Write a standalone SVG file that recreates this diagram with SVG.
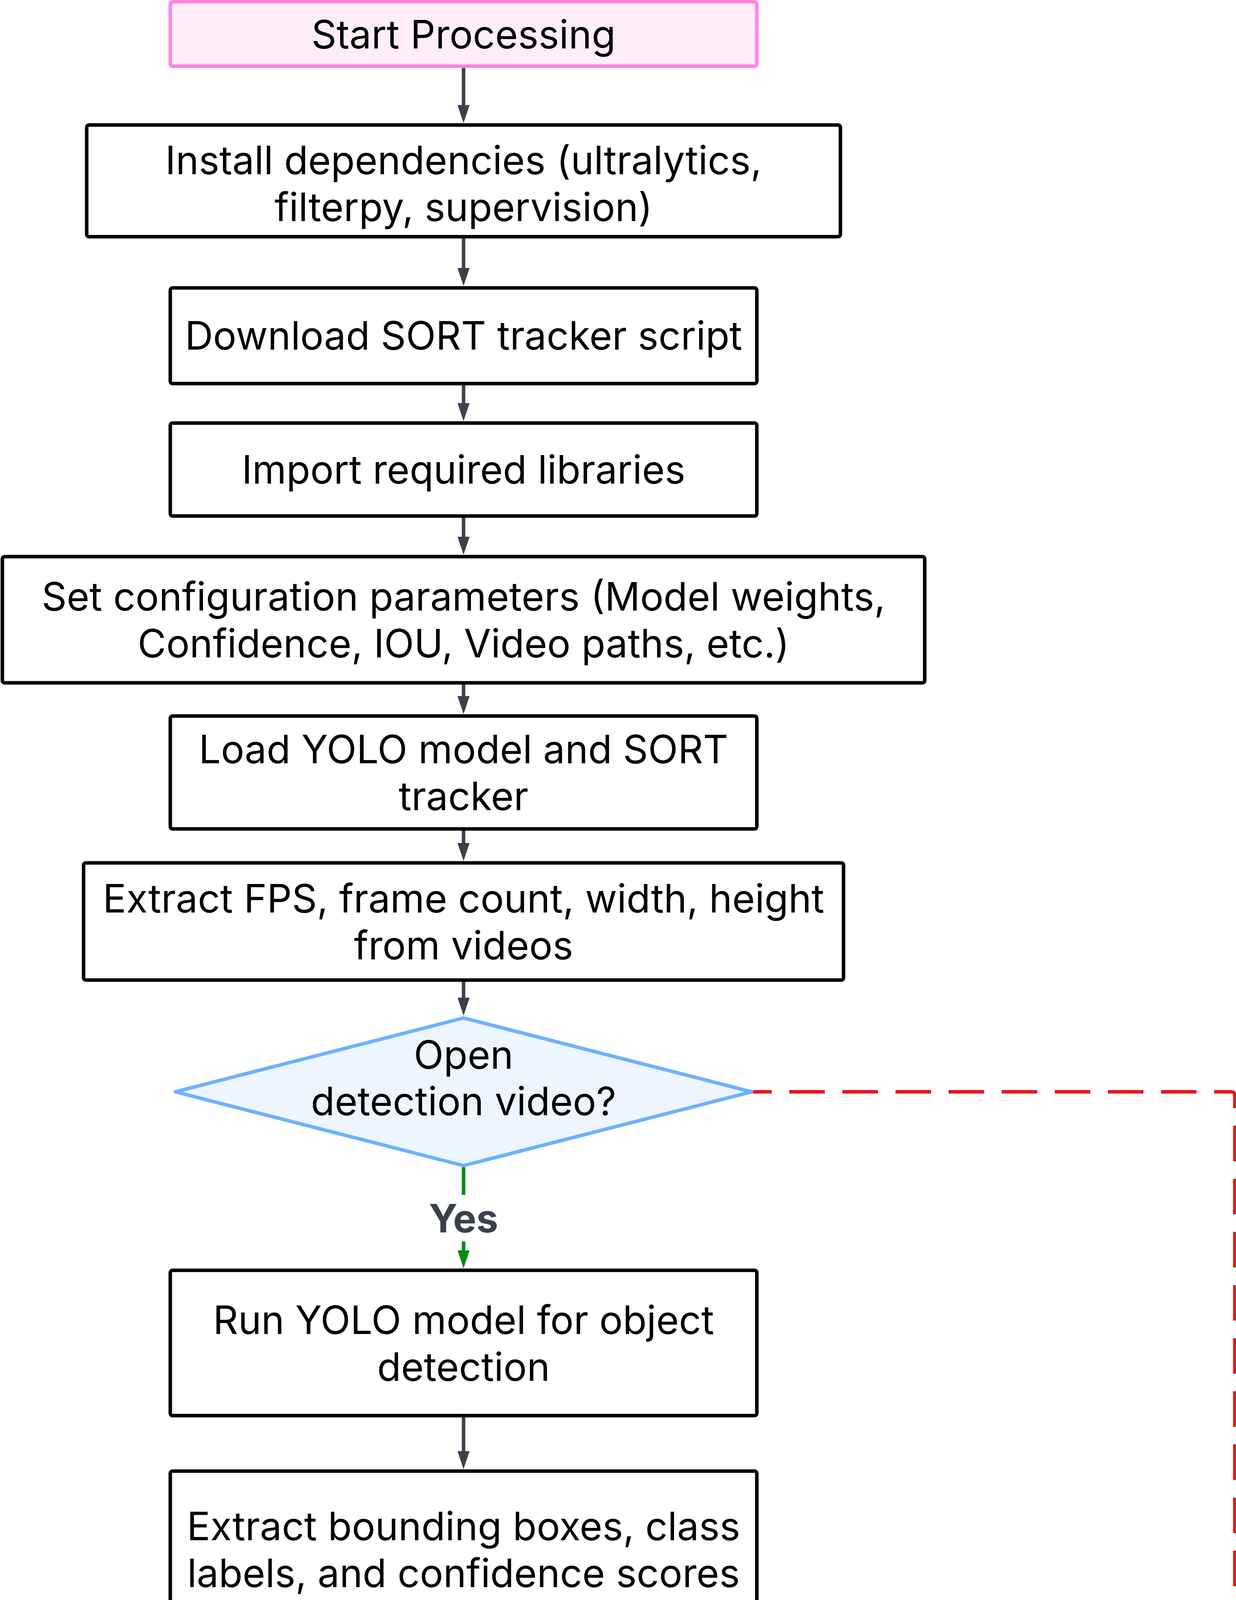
<svg xmlns="http://www.w3.org/2000/svg" width="3165" height="7988" viewBox="0 0 3165 7988">
<style>
.bg{fill:#ffffff}
.box rect{fill:#ffffff;stroke:#000000;stroke-width:9}
.box text,.dec text{font-family:Inter,"Liberation Sans",sans-serif;font-size:100px;fill:#000000;text-anchor:middle}
.start rect{fill:#ffeefa;stroke:#ff86de}
.dec polygon{fill:#edf5ff;stroke:#6eb0ff;stroke-width:9;stroke-linejoin:round}
.e{stroke:#3b414b;stroke-width:9;fill:none}
.eg{stroke:#078a12;stroke-width:9;fill:none}
.er{stroke:#e8151a;stroke-width:9;fill:none;stroke-dasharray:91 45;stroke-dashoffset:39}
.lbl{font-family:Inter,"Liberation Sans",sans-serif;font-size:100px;font-weight:bold;fill:#3b414b}
</style>
<defs>
<marker id="ag" markerUnits="userSpaceOnUse" viewBox="0 0 46 31" markerWidth="46" markerHeight="31" refX="16" refY="15.5" orient="auto"><path d="M0,0 L46,15.5 L0,31 z" fill="#3b414b"/></marker>
<marker id="agr" markerUnits="userSpaceOnUse" viewBox="0 0 46 31" markerWidth="46" markerHeight="31" refX="16" refY="15.5" orient="auto"><path d="M0,0 L46,15.5 L0,31 z" fill="#078a12"/></marker>
<marker id="ar" markerUnits="userSpaceOnUse" viewBox="0 0 46 31" markerWidth="46" markerHeight="31" refX="16" refY="15.5" orient="auto"><path d="M0,0 L46,15.5 L0,31 z" fill="#e8151a"/></marker>
</defs>
<rect class="bg" x="0" y="0" width="3165" height="7988"/>
<g id="connectors">
<line class="e" x1="1187" y1="174" x2="1187" y2="285" marker-end="url(#ag)"/>
<line class="e" x1="1187" y1="610" x2="1187" y2="702" marker-end="url(#ag)"/>
<line class="e" x1="1187" y1="986" x2="1187" y2="1048" marker-end="url(#ag)"/>
<line class="e" x1="1187" y1="1325" x2="1187" y2="1390" marker-end="url(#ag)"/>
<line class="e" x1="1187" y1="1752" x2="1187" y2="1798" marker-end="url(#ag)"/>
<line class="e" x1="1187" y1="2126" x2="1187" y2="2174" marker-end="url(#ag)"/>
<line class="e" x1="1187" y1="2513" x2="1187" y2="2570" marker-end="url(#ag)"/>
<line class="eg" x1="1187" y1="2988" x2="1187" y2="3217" marker-end="url(#agr)"/>
<line class="e" x1="1187" y1="3628" x2="1187" y2="3731" marker-end="url(#ag)"/>
<line class="e" x1="1187" y1="4174" x2="1187" y2="4203" marker-end="url(#ag)"/>
<line class="e" x1="1187" y1="4531" x2="1187" y2="4563" marker-end="url(#ag)"/>
<line class="e" x1="1187" y1="4889" x2="1187" y2="4978" marker-end="url(#ag)"/>
<line class="e" x1="1187" y1="5235" x2="1187" y2="5273" marker-end="url(#ag)"/>
<line class="e" x1="1187" y1="5599" x2="1187" y2="5638" marker-end="url(#ag)"/>
<line class="e" x1="1187" y1="5965" x2="1187" y2="5998" marker-end="url(#ag)"/>
<line class="e" x1="1187" y1="6323" x2="1187" y2="6381" marker-end="url(#ag)"/>
<line class="e" x1="1187" y1="6634" x2="1187" y2="6696" marker-end="url(#ag)"/>
<line class="e" x1="1187" y1="7022" x2="1187" y2="7067" marker-end="url(#ag)"/>
<line class="e" x1="1187" y1="7355" x2="1187" y2="7433" marker-end="url(#ag)"/>
<line class="e" x1="1187" y1="7701" x2="1187" y2="7786" marker-end="url(#ag)"/>
<path class="er" d="M1924,2795 H3152 Q3162,2795 3162,2805 V7893 Q3162,7903 3152,7903 H1973" marker-end="url(#ar)"/>
<g id="edge-labels">
<rect x="1090" y="3059" width="195" height="119" fill="#ffffff"/>
<text class="lbl" x="1187" y="3155" text-anchor="middle">Yes</text>
<rect x="3090" y="5258" width="75" height="182" fill="#ffffff"/>
<text class="lbl" x="3101" y="5377">N</text>
</g>
</g>
<g id="n1" class="box start"><rect x="436" y="4.5" width="1502" height="165" rx="6"/><text x="1187" y="124">Start Processing</text></g>
<g id="n2" class="box"><rect x="222" y="320" width="1930" height="286" rx="6"/><text x="1187" y="446">Install dependencies (ultralytics,</text><text x="1187" y="566">filterpy, supervision)</text></g>
<g id="n3" class="box"><rect x="436" y="737" width="1502" height="245" rx="6"/><text x="1187" y="895">Download SORT tracker script</text></g>
<g id="n4" class="box"><rect x="436" y="1083" width="1502" height="238" rx="6"/><text x="1187" y="1238">Import required libraries</text></g>
<g id="n5" class="box"><rect x="6" y="1425" width="2362" height="323" rx="6"/><text x="1187" y="1563">Set configuration parameters (Model weights,</text><text x="1187" y="1683">Confidence, IOU, Video paths, etc.)</text></g>
<g id="n6" class="box"><rect x="436" y="1833" width="1502" height="289" rx="6"/><text x="1187" y="1954">Load YOLO model and SORT</text><text x="1187" y="2074">tracker</text></g>
<g id="n7" class="box"><rect x="214" y="2209" width="1946" height="300" rx="6"/><text x="1187" y="2336">Extract FPS, frame count, width, height</text><text x="1187" y="2456">from videos</text></g>
<g id="n8" class="dec"><polygon points="1187,2606 1925,2795 1187,2984 449,2795"/><text x="1187" y="2736">Open</text><text x="1187" y="2855">detection video?</text></g>
<g id="n9" class="box"><rect x="436" y="3252" width="1502" height="372" rx="6"/><text x="1187" y="3415">Run YOLO model for object</text><text x="1187" y="3535">detection</text></g>
<g id="n10" class="box"><rect x="436" y="3766" width="1502" height="404" rx="6"/><text x="1187" y="3943">Extract bounding boxes, class</text><text x="1187" y="4063">labels, and confidence scores</text></g>
<g id="n11" class="box"><rect x="436" y="4238" width="1502" height="289" rx="6"/><text x="1187" y="4359">Update SORT tracker with</text><text x="1187" y="4479">detections</text></g>
<g id="n12" class="box"><rect x="436" y="4598" width="1502" height="287" rx="6"/><text x="1187" y="4718">Draw rectangles &amp; labels on</text><text x="1187" y="4838">objects</text></g>
<g id="n13" class="box"><rect x="436" y="5013" width="1502" height="218" rx="6"/><text x="1187" y="5159">Write frames to output video</text></g>
<g id="n14" class="box"><rect x="436" y="5308" width="1502" height="287" rx="6"/><text x="1187" y="5428">Apply ByteTrack for heatmap</text><text x="1187" y="5548">annotations</text></g>
<g id="n15" class="box"><rect x="436" y="5673" width="1502" height="288" rx="6"/><text x="1187" y="5794">Write heatmap frames to</text><text x="1187" y="5914">output video</text></g>
<g id="n16" class="box"><rect x="436" y="6033" width="1502" height="286" rx="6"/><text x="1187" y="6153">Convert video format using</text><text x="1187" y="6273">FFmpeg</text></g>
<g id="n17" class="box"><rect x="436" y="6416" width="1502" height="214" rx="6"/><text x="1187" y="6560">Display output videos in Colab</text></g>
<g id="n18" class="box"><rect x="436" y="6731" width="1502" height="287" rx="6"/><text x="1187" y="6851">Read detection results from</text><text x="1187" y="6971">saved text files</text></g>
<g id="n19" class="box"><rect x="436" y="7102" width="1502" height="249" rx="6"/><text x="1187" y="7263">Map class IDs to class labels</text></g>
<g id="n20" class="box"><rect x="436" y="7468" width="1502" height="229" rx="6"/><text x="1187" y="7620">Display processed predictions</text></g>
<g id="n21" class="box"><rect x="436" y="7821" width="1502" height="156" rx="6"/><text x="1187" y="7936">Process Complete</text></g>
</svg>
